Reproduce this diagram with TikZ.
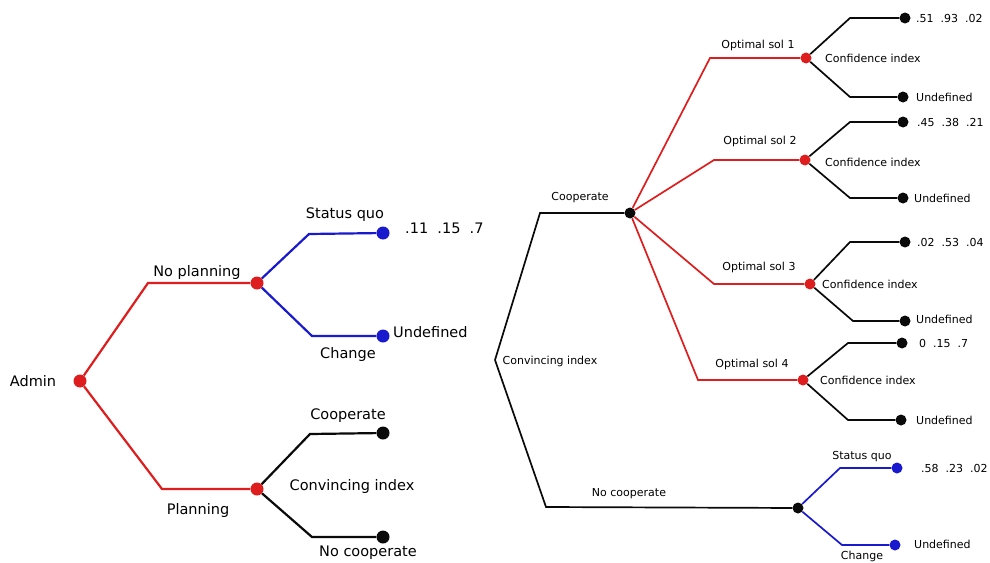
\documentclass[tikz,border=0pt]{standalone}
\usepackage{fontspec}
\setmainfont{DejaVu Sans}
\definecolor{tred}{RGB}{222,30,30}
\definecolor{tblue}{RGB}{25,25,205}
\definecolor{tblack}{RGB}{10,10,10}
\begin{document}
\begin{tikzpicture}[x=1pt,y=-1pt,
  dotL/.style={circle,inner sep=0pt,minimum size=13pt},
  dotS/.style={circle,inner sep=0pt,minimum size=11pt},
  rL/.style={dotL,fill=tred}, bL/.style={dotL,fill=tblue}, kL/.style={dotL,fill=tblack},
  rS/.style={dotS,fill=tred}, bS/.style={dotS,fill=tblue}, kS/.style={dotS,fill=tblack},
  lblL/.style={inner sep=0pt,font=\fontsize{14.5}{16}\selectfont},
  lblS/.style={inner sep=0pt,font=\fontsize{11}{13}\selectfont},
  redL/.style={draw=tred,line width=2.2pt},
  blueL/.style={draw=tblue,line width=2.2pt},
  blackL/.style={draw=tblack,line width=2.2pt},
  redS/.style={draw=tred,line width=1.7pt},
  blueS/.style={draw=tblue,line width=1.7pt},
  blackS/.style={draw=tblack,line width=1.7pt}]
\useasboundingbox (0,0) rectangle (990,562);

% ---------------- left tree ----------------
\node[rL] (admin) at (80,381) {};
\node[rL] (noplan) at (257,283) {};
\node[rL] (plan) at (257,489) {};
\node[bL] (sq) at (383,233) {};
\node[bL] (ch) at (383,336) {};
\node[kL] (coop) at (383,433) {};
\node[kL] (ncoop) at (383,537) {};

\coordinate (c1) at (148,283);
\coordinate (c2) at (162,489);
\coordinate (c3) at (309,234);
\coordinate (c4) at (312,336);
\coordinate (c5) at (310,434);
\coordinate (c6) at (312,537);

\draw[redL] (admin) -- (c1) -- (noplan);
\draw[redL] (admin) -- (c2) -- (plan);
\draw[blueL] (noplan) -- (c3) -- (sq);
\draw[blueL] (noplan) -- (c4) -- (ch);
\draw[blackL] (plan) -- (c5) -- (coop);
\draw[blackL] (plan) -- (c6) -- (ncoop);

\node[lblL] (tadmin) at (33,381) {Admin};
\node[lblL] (tnoplan) at (197,272) {No planning};
\node[lblL] (tplan) at (198,510) {Planning};
\node[lblL] (tsq) at (345,215) {Status quo};
\node[lblL,anchor=west] (tsqv) at (405,228) {.11\ \ .15\ \ .7};
\node[lblL,anchor=west] (tund) at (393,332) {Undefined};
\node[lblL] (tch) at (348,354) {Change};
\node[lblL] (tcoop) at (348,416) {Cooperate};
\node[lblL] (tconv) at (352,486) {Convincing index};
\node[lblL] (tncoop) at (368,553) {No cooperate};

% ---------------- right tree ----------------
\coordinate (root) at (495,360);
\node[kS] (Rcoop) at (630,213) {};
\node[kS] (Rncoop) at (798,508) {};
\coordinate (d1) at (540,213);
\coordinate (d2) at (546,507);
\draw[blackS] (root) -- (d1) -- (Rcoop);
\draw[blackS] (root) -- (d2) -- (Rncoop);

\node[rS] (s1) at (806,58) {};
\node[rS] (s2) at (805,160) {};
\node[rS] (s3) at (810,284) {};
\node[rS] (s4) at (803,380) {};
\coordinate (e1) at (710,58);
\coordinate (e2) at (714,160);
\coordinate (e3) at (714,284);
\coordinate (e4) at (698,380);
\draw[redS] (Rcoop) -- (e1) -- (s1);
\draw[redS] (Rcoop) -- (e2) -- (s2);
\draw[redS] (Rcoop) -- (e3) -- (s3);
\draw[redS] (Rcoop) -- (e4) -- (s4);

% outcomes of each optimal solution
\node[kS] (s1a) at (905,18) {};
\node[kS] (s1b) at (903,97) {};
\node[kS] (s2a) at (903,122) {};
\node[kS] (s2b) at (903,198) {};
\node[kS] (s3a) at (905,242) {};
\node[kS] (s3b) at (905,321) {};
\node[kS] (s4a) at (902,343) {};
\node[kS] (s4b) at (901,420) {};
\coordinate (f1a) at (850,18);
\coordinate (f1b) at (850,97);
\coordinate (f2a) at (850,122);
\coordinate (f2b) at (850,198);
\coordinate (f3a) at (850,242);
\coordinate (f3b) at (853,321);
\coordinate (f4a) at (848,343);
\coordinate (f4b) at (848,420);
\draw[blackS] (s1) -- (f1a) -- (s1a);
\draw[blackS] (s1) -- (f1b) -- (s1b);
\draw[blackS] (s2) -- (f2a) -- (s2a);
\draw[blackS] (s2) -- (f2b) -- (s2b);
\draw[blackS] (s3) -- (f3a) -- (s3a);
\draw[blackS] (s3) -- (f3b) -- (s3b);
\draw[blackS] (s4) -- (f4a) -- (s4a);
\draw[blackS] (s4) -- (f4b) -- (s4b);

% no cooperate branch
\node[bS] (nsq) at (897,468) {};
\node[bS] (nch) at (895,545) {};
\coordinate (g1) at (840,468);
\coordinate (g2) at (842,545);
\draw[blueS] (Rncoop) -- (g1) -- (nsq);
\draw[blueS] (Rncoop) -- (g2) -- (nch);

% labels right tree
\node[lblS] (tRcoop) at (580,198) {Cooperate};
\node[lblS] (tRconv) at (550,361) {Convincing index};
\node[lblS] (tRncoop) at (629,494) {No cooperate};
\node[lblS] (to1) at (758,45) {Optimal sol 1};
\node[lblS] (to2) at (760,141) {Optimal sol 2};
\node[lblS] (to3) at (759,267) {Optimal sol 3};
\node[lblS] (to4) at (752,364) {Optimal sol 4};
\node[lblS,anchor=west] (tc1) at (825,58) {Confidence index};
\node[lblS,anchor=west] (tc2) at (825,162) {Confidence index};
\node[lblS,anchor=west] (tc3) at (822,284) {Confidence index};
\node[lblS,anchor=west] (tc4) at (820,380) {Confidence index};
\node[lblS,anchor=west] (v1) at (916,18) {.51\ \ .93\ \ .02};
\node[lblS,anchor=west] (v2) at (917,122) {.45\ \ .38\ \ .21};
\node[lblS,anchor=west] (v3) at (917,242) {.02\ \ .53\ \ .04};
\node[lblS,anchor=west] (v4) at (919,343) {0\ \ .15\ \ .7};
\node[lblS,anchor=west] (v5) at (921,468) {.58\ \ .23\ \ .02};
\node[lblS,anchor=west] (u1) at (916,97) {Undefined};
\node[lblS,anchor=west] (u2) at (914,198) {Undefined};
\node[lblS,anchor=west] (u3) at (916,319) {Undefined};
\node[lblS,anchor=west] (u4) at (916,420) {Undefined};
\node[lblS,anchor=west] (u5) at (914,544) {Undefined};
\node[lblS] (tnsq) at (862,457) {Status quo};
\node[lblS] (tnch) at (862,556) {Change};
\end{tikzpicture}
\end{document}
